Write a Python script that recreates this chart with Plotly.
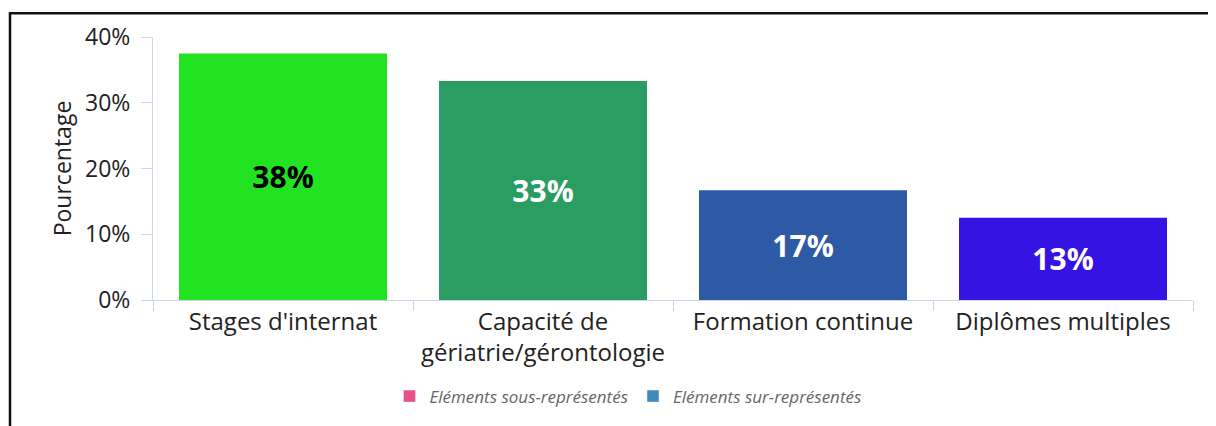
import math
import plotly.graph_objects as go

categories = ["Stages d'internat", "Capacité de<br>gériatrie/gérontologie", "Formation continue", "Diplômes multiples"]
values = [37.5, 33.3, 16.7, 12.5]
bar_colors = ["#22e322", "#2a9d62", "#2e59a4", "#3513e3"]
label_colors = ["#000000", "#ffffff", "#ffffff", "#ffffff"]
legend_names = ["Eléments sous-représentés", "Eléments sur-représentés"]
legend_colors = ["#e8508a", "#3d8ab8"]
y_ticks = [0, 10, 20, 30, 40]

labels = [f"{math.floor(v + 0.5)}%" for v in values]
y_ticktext = [f"{t}%" for t in y_ticks]

FONT = "Open Sans"
OFF = 8  # page body margin
W, H = 1208, 418
L, R, T, B = 153 - OFF, W - (1193 - OFF), 33 - OFF, H - (300 - OFF)
pw, ph = W - L - R, H - T - B

def px_x(p):
    return (p - OFF - L) / pw

def px_y(p):
    return (H - B - (p - OFF)) / ph

fig = go.Figure()
fig.add_trace(go.Bar(
    x=categories, y=values, marker=dict(color=bar_colors, line=dict(width=0)),
    text=labels, textposition="inside", insidetextanchor="middle", textangle=0,
    textfont=dict(family=FONT, size=30, color=label_colors, weight="bold"),
    showlegend=False, hoverinfo="skip",
))
for n, c in zip(legend_names, legend_colors):
    fig.add_trace(go.Bar(x=[None], y=[None], name=n, marker_color=c))

fig.update_layout(
    width=W, height=H, margin=dict(l=L, r=R, t=T, b=B),
    paper_bgcolor="white", plot_bgcolor="white",
    bargap=0.2, barmode="overlay",
    font=dict(family=FONT, color="#333333"),
    legend=dict(orientation="h", x=px_x(628), xanchor="center", y=px_y(398), yanchor="middle",
                font=dict(family=FONT, size=17, color="#666666", style="italic"),
                itemclick=False, itemdoubleclick=False),
    xaxis=dict(type="category", tickson="boundaries", ticks="outside", ticklen=10,
               tickcolor="#ccd6eb", showline=True, linecolor="#ccd6eb", linewidth=1,
               showgrid=False, range=[-0.5, 3.5],
               tickfont=dict(family=FONT, size=24, color="#222222")),
    yaxis=dict(range=[0, 40], tickmode="array", tickvals=y_ticks, ticktext=y_ticktext,
               ticks="outside", ticklen=11, ticklabelstandoff=6,
               tickcolor="#ccd6eb", showline=True, linecolor="#ccd6eb", linewidth=1,
               showgrid=False, zeroline=False,
               tickfont=dict(family=FONT, size=23, color="#222222"),
               title=dict(text="Pourcentage", font=dict(family=FONT, size=23, color="#222222"), standoff=7)),
    shapes=[dict(type="rect", xref="paper", yref="paper",
                 x0=px_x(10), x1=px_x(1240), y0=px_y(460), y1=px_y(9),
                 line=dict(color="#111111", width=2.5), fillcolor="rgba(0,0,0,0)", layer="above")],
)

fig.write_html("out.html")
